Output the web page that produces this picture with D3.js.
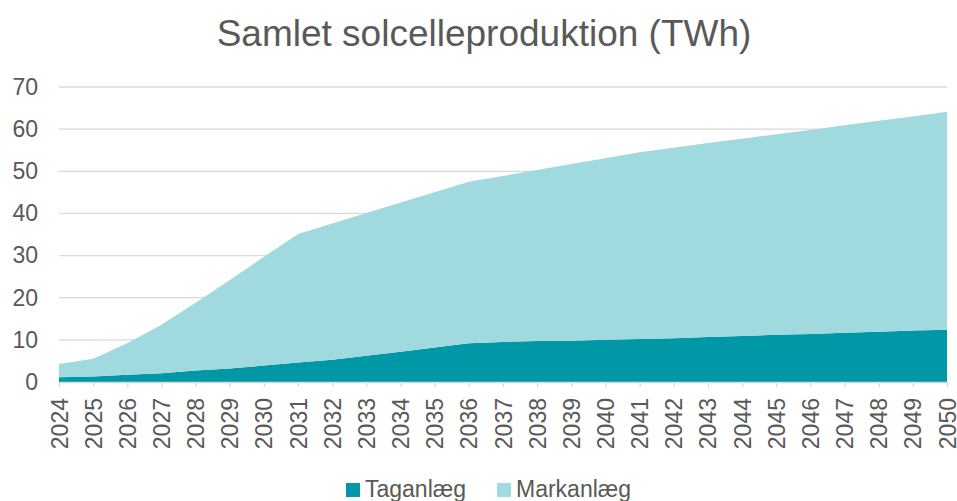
<!DOCTYPE html>
<html>
<head>
<meta charset="utf-8">
<script src="https://cdn.jsdelivr.net/npm/d3@7"></script>
<style>
  body { margin: 0; background: #fff; }
  text { font-family: "Liberation Sans", Arial, sans-serif; fill: #595959; }
</style>
</head>
<body>
<div id="chart"></div>
<script>
const years = [2024, 2025, 2026, 2027, 2028, 2029, 2030, 2031, 2032, 2033, 2034, 2035, 2036, 2037,
  2038, 2039, 2040, 2041, 2042, 2043, 2044, 2045, 2046, 2047, 2048, 2049, 2050];
const taganlaeg = [1.1, 1.3, 1.7, 2.1, 2.7, 3.2, 3.9, 4.6, 5.3, 6.2, 7.2, 8.2, 9.2, 9.5,
  9.7, 9.8, 10.0, 10.2, 10.4, 10.7, 10.9, 11.2, 11.4, 11.7, 11.9, 12.2, 12.4];
const markanlaeg = [3.2, 4.2, 7.5, 11.5, 16.1, 21.0, 25.8, 30.5, 32.3, 33.9, 35.4, 36.8, 38.3, 39.4,
  40.6, 41.9, 43.1, 44.3, 45.2, 46.0, 46.8, 47.6, 48.4, 49.2, 50.1, 50.8, 51.7];
const seriesNames = ["Taganlæg", "Markanlæg"];
const yTicks = [0, 10, 20, 30, 40, 50, 60, 70];

const W = 957, H = 501;
const margin = { top: 87, right: 10, bottom: 119, left: 59 };
const width = 947 - margin.left;
const height = 382 - margin.top;

const color = d3.scaleOrdinal().domain(seriesNames).range(["#0097a6", "#a0d9de"]);

const table = years.map((y, i) => ({ year: y, "Taganlæg": taganlaeg[i], "Markanlæg": markanlaeg[i] }));
const stacked = d3.stack().keys(seriesNames)(table);

const x = d3.scaleLinear().domain([years[0], years[years.length - 1]]).range([0, width]);
const y = d3.scaleLinear().domain([0, 70]).range([height, 0]);

const svg = d3.select("#chart").append("svg")
  .attr("width", W)
  .attr("height", H);

svg.append("text")
  .attr("x", 484)
  .attr("y", 46)
  .attr("text-anchor", "middle")
  .style("font-size", "37px")
  .text("Samlet solcelleproduktion (TWh)");

const g = svg.append("g").attr("transform", `translate(${margin.left},${margin.top})`);

// gridlines
g.append("g")
  .selectAll("line")
  .data(yTicks.slice(1))
  .join("line")
  .attr("x1", 0).attr("x2", width)
  .attr("y1", d => y(d)).attr("y2", d => y(d))
  .attr("stroke", "#d9d9d9")
  .attr("stroke-width", 1.3);

const area = d3.area()
  .x(d => x(d.data.year))
  .y0(d => y(d[0]))
  .y1(d => y(d[1]));

g.selectAll("path.area")
  .data(stacked)
  .join("path")
  .attr("class", "area")
  .attr("fill", d => color(d.key))
  .attr("d", area);

// y axis
const yAxis = g.append("g")
  .call(d3.axisLeft(y).tickValues(yTicks).tickSize(0).tickPadding(21));
yAxis.select(".domain").remove();
yAxis.selectAll("text").style("font-size", "23px").attr("fill", "#595959").attr("font-family", null);

// x axis
const xAxis = g.append("g")
  .attr("transform", `translate(0,${height})`)
  .call(d3.axisBottom(x).tickValues(years).tickFormat(d3.format("d")).tickSize(5).tickSizeOuter(0));
xAxis.select(".domain").attr("stroke", "#d9d9d9").attr("stroke-width", 1.3);
xAxis.selectAll(".tick line").attr("stroke", "#d9d9d9").attr("stroke-width", 1.3);
xAxis.selectAll("text")
  .attr("font-family", null)
  .attr("fill", "#595959")
  .style("font-size", "23px")
  .attr("text-anchor", "end")
  .attr("transform", "rotate(-90)")
  .attr("x", -16)
  .attr("y", 0)
  .attr("dy", "0.35em");

// legend
const legendPos = [346, 497];
const legend = svg.append("g");
const items = legend.selectAll("g")
  .data(seriesNames)
  .join("g")
  .attr("transform", (d, i) => `translate(${legendPos[i]},483)`);
items.append("rect")
  .attr("width", 14).attr("height", 14)
  .attr("fill", d => color(d));
items.append("text")
  .attr("x", 19)
  .attr("y", 14)
  .style("font-size", "23px")
  .text(d => d);
</script>
</body>
</html>
